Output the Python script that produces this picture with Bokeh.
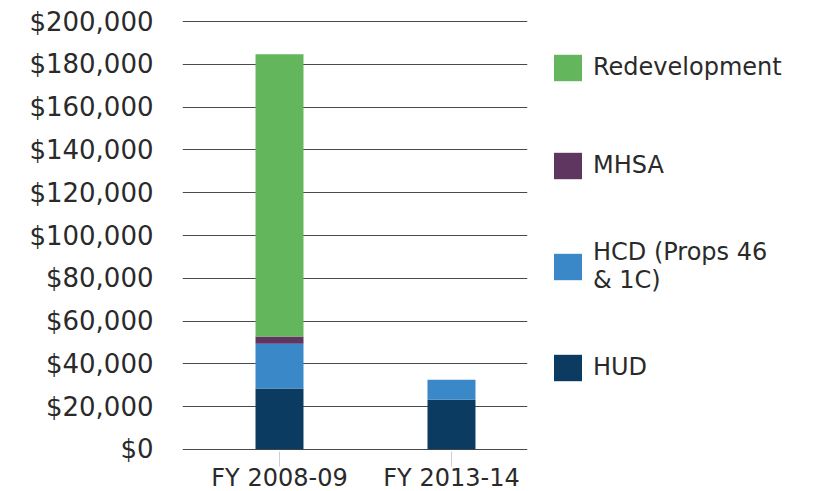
from bokeh.plotting import figure
from bokeh.models import (ColumnDataSource, Range1d, FixedTicker, NumeralTickFormatter,
                          Legend, LegendItem)
from bokeh.embed import file_html
from bokeh.resources import INLINE

# ---- data ----
categories = ["FY 2008-09", "FY 2013-14"]
hud = [28400, 23200]
hcd = [21000, 9400]
mhsa = [3400, 0]
redevelopment = [132000, 0]
y_ticks = [0, 20000, 40000, 60000, 80000, 100000, 120000, 140000, 160000, 180000, 200000]

series = ["HUD", "HCD", "MHSA", "Redevelopment"]
legend_labels = {"HUD": "HUD", "HCD": "HCD (Props 46\n& 1C)", "MHSA": "MHSA",
                 "Redevelopment": "Redevelopment"}
bar_colors = ["#0c3b62", "#3a88c8", "#5e3660", "#64b65c"]

FONT = "DejaVu Sans"
TEXT = "#2a2a2a"

xs = list(range(len(categories)))
source = ColumnDataSource(dict(x=xs, HUD=hud, HCD=hcd, MHSA=mhsa, Redevelopment=redevelopment))

p = figure(output_backend="svg", toolbar_location=None,
           frame_width=345, frame_height=432,
           min_border_left=182, min_border_top=19, min_border_bottom=0, min_border_right=0,
           x_range=Range1d(-0.564, 1.442), y_range=Range1d(-1000, 201000))
p.outline_line_color = None
p.background_fill_color = "white"

renderers = p.vbar_stack(series, x="x", width=0.279, source=source, color=bar_colors,
                         line_color=None)
rmap = dict(zip(series, renderers))

order = ["Redevelopment", "MHSA", "HCD", "HUD"]
legend = Legend(items=[LegendItem(label=legend_labels[s], renderers=[rmap[s]]) for s in order],
                location="top_left", orientation="vertical",
                margin=23, padding=0, spacing=48, label_height=50,
                glyph_width=35, glyph_height=33, label_standoff=8,
                label_text_font=FONT, label_text_font_size="24px", label_text_color=TEXT,
                border_line_alpha=0, background_fill_alpha=0)
p.add_layout(legend, "right")

# axes
p.yaxis.ticker = FixedTicker(ticks=y_ticks)
p.yaxis.formatter = NumeralTickFormatter(format="$0,0")
p.yaxis.axis_line_color = None
p.yaxis.major_tick_line_color = None
p.yaxis.minor_tick_line_color = None
p.yaxis.major_label_standoff = 23
p.yaxis.major_label_text_font = FONT
p.yaxis.major_label_text_font_size = "26px"
p.yaxis.major_label_text_color = TEXT

p.xaxis.ticker = FixedTicker(ticks=xs)
p.xaxis.major_label_overrides = {i: c for i, c in enumerate(categories)}
p.xaxis.axis_line_color = None
p.xaxis.major_tick_in = 0
p.xaxis.major_tick_out = 15
p.xaxis.major_tick_line_color = "#c8d1da"
p.xaxis.minor_tick_line_color = None
p.xaxis.major_label_standoff = -3
p.xaxis.major_label_text_font = FONT
p.xaxis.major_label_text_font_size = "24px"
p.xaxis.major_label_text_color = TEXT

p.xgrid.grid_line_color = None
p.ygrid.ticker = FixedTicker(ticks=y_ticks)
p.ygrid.grid_line_color = "#4a4a4a"
p.ygrid.grid_line_width = 1.2
p.ygrid.level = "underlay"

open("out.html", "w").write(file_html(p, INLINE))
